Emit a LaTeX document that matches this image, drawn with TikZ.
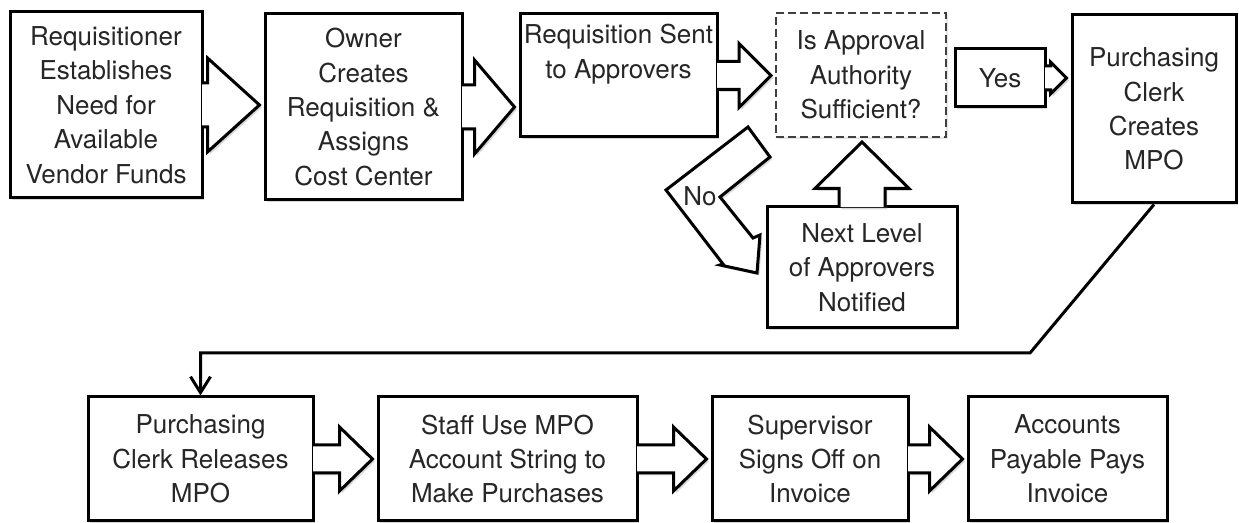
\documentclass[tikz,border=0pt]{standalone}
\usepackage{fontspec}
\setmainfont{TeX Gyre Heros}
\usetikzlibrary{arrows.meta,calc,shadows}

\newcommand{\fatarrow}[5]{%
  \draw[fat] let \p1=(#1.east), \p2=(#2.west) in
    (\x1-0.75pt,\y1+#3) -- (\x2-2pt-#5,\y1+#3) -- (\x2-2pt-#5,\y1+#4) -- (\x2-2pt,\y1)
    -- (\x2-2pt-#5,\y1-#4) -- (\x2-2pt-#5,\y1-#3) -- (\x1-0.75pt,\y1-#3);}

\begin{document}
\begin{tikzpicture}[x=0.5pt, y=-0.5pt,
  font=\fontsize{13pt}{17.2pt}\selectfont, text=black!85,
  box/.style={draw, line width=1.5pt, fill=white, align=center, inner sep=2pt,
    drop shadow={shadow xshift=1.2pt, shadow yshift=-1.2pt, opacity=.3}},
  ask/.style={draw=black!75, line width=1pt, dash pattern=on 4pt off 2pt, fill=white, align=center,
    drop shadow={shadow xshift=1.2pt, shadow yshift=-1.2pt, opacity=.2}},
  fat/.style={draw, line width=1.5pt, fill=white, line join=miter,
    drop shadow={shadow xshift=1.2pt, shadow yshift=-1.2pt, opacity=.3}},
  line/.style={-{Straight Barb[length=8pt,width=10pt]}, line width=1.5pt}]
\useasboundingbox (0,0) rectangle (1239,523);
\node[box, minimum width=96pt, minimum height=93pt] (req) at (106,105) {Requisitioner\\Establishes\\Need for\\Available\\Vendor Funds};
\node[box, minimum width=98.5pt, minimum height=93pt] (own) at (363.5,107) {Owner\\Creates\\Requisition \&\\Assigns\\Cost Center};
\node[box, inner sep=0pt, minimum width=98.5pt, minimum height=61.5pt] (sent) at (618.5,75.5)
  {\parbox[c][61.5pt][t]{98pt}{\centering\rule{0pt}{15pt}Requisition Sent\\to Approvers}};
\node[ask, minimum width=85pt, minimum height=62pt] (auth) at (861,75) {Is Approval\\Authority\\Sufficient?};
\node[box, minimum width=45pt, minimum height=29pt] (yes) at (1000,78) {Yes};
\node[box, minimum width=82pt, minimum height=94pt] (clerk) at (1154,109) {Purchasing\\Clerk\\Creates\\MPO};
\node[box, minimum width=95pt, minimum height=60.5pt] (next) at (862,267.5) {Next Level\\of Approvers\\Notified};
\node[box, minimum width=112.5pt, minimum height=62pt] (release) at (200.5,459) {Purchasing\\Clerk Releases\\MPO};
\node[box, minimum width=129.5pt, minimum height=62pt] (staff) at (507.5,459) {Staff Use MPO\\Account String to\\Make Purchases};
\node[box, minimum width=98pt, minimum height=62pt] (sup) at (810,459) {Supervisor\\Signs Off on\\Invoice};
\node[box, minimum width=99.5pt, minimum height=62pt] (pay) at (1067.5,459) {Accounts\\Payable Pays\\Invoice};
\fatarrow{req}{own}{11pt}{23.5pt}{26pt}
\fatarrow{own}{sent}{11pt}{23.5pt}{20pt}
\fatarrow{sent}{auth}{7pt}{16pt}{16pt}
\fatarrow{yes}{clerk}{6pt}{8pt}{8pt}
\fatarrow{release}{staff}{7pt}{16pt}{16.5pt}
\fatarrow{staff}{sup}{7pt}{16pt}{16.5pt}
\fatarrow{sup}{pay}{7pt}{16pt}{16.5pt}
\draw[fat] let \p1=(next.north), \p2=(auth.south) in
  (\x1-11.5pt,\y1-0.75pt) -- (\x1-11.5pt,\y1+8.5pt) -- (\x1-23.5pt,\y1+8.5pt) -- (\x1,\y2-2pt)
  -- (\x1+23.5pt,\y1+8.5pt) -- (\x1+11.5pt,\y1+8.5pt) -- (\x1+11.5pt,\y1-0.75pt);
\draw[fat] (748,127) -- (770,157) -- (720,197) -- (753,238) -- (760,235) -- (757,273)
  -- (720,265) -- (723,264) -- (666,190) -- cycle;
\node (no) at (700,196) {No};
\coordinate (bend) at (1030,353);
\draw[line] (clerk.south) -- (bend) -| (release.north);
\end{tikzpicture}
\end{document}
